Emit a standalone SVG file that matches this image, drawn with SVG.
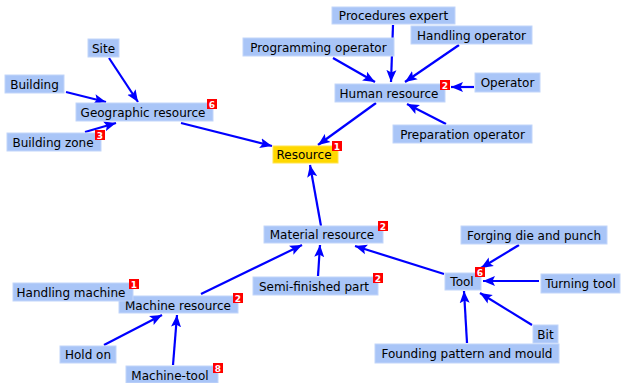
<svg xmlns="http://www.w3.org/2000/svg" width="621" height="383" viewBox="0 0 621 383">
<defs>
<marker id="ah" markerUnits="userSpaceOnUse" markerWidth="13" markerHeight="11" refX="12" refY="5.5" orient="auto">
<path d="M0,0.5 L12,5.5 L0,10.5 L2.5,5.5 z" fill="#0000ff"/>
</marker>
<style>
.n{fill:#a9c5f7;stroke:#c2d5fa;stroke-width:1}
.r{fill:#ffd800;stroke:#ffe44d;stroke-width:1}
.t{font-family:"DejaVu Sans",Verdana,sans-serif;font-size:12px;fill:#000;text-anchor:middle}
.b{fill:#ff0000}
.bt{font-family:"DejaVu Sans",sans-serif;font-size:9px;font-weight:bold;fill:#fff;text-anchor:middle}
.e{stroke:#0000ff;stroke-width:2.2;fill:none;marker-end:url(#ah)}
</style>
</defs>
<rect width="621" height="383" fill="#ffffff"/>
<g id="connectors">
<line class="e" x1="109" y1="58" x2="138" y2="102"/>
<line class="e" x1="66" y1="92" x2="106" y2="102"/>
<line class="e" x1="85" y1="132" x2="116" y2="123"/>
<line class="e" x1="181" y1="123" x2="272" y2="146"/>
<line class="e" x1="376" y1="103" x2="318" y2="145"/>
<line class="e" x1="393" y1="25" x2="391" y2="82"/>
<line class="e" x1="333" y1="58" x2="375" y2="82"/>
<line class="e" x1="459" y1="45" x2="405" y2="82"/>
<line class="e" x1="474" y1="87" x2="451" y2="87"/>
<line class="e" x1="446" y1="124" x2="407" y2="104"/>
<line class="e" x1="321" y1="226" x2="310" y2="165"/>
<line class="e" x1="201" y1="294" x2="302" y2="245"/>
<line class="e" x1="318" y1="276" x2="320" y2="245"/>
<line class="e" x1="444" y1="274" x2="355" y2="246"/>
<line class="e" x1="519" y1="245" x2="481" y2="268"/>
<line class="e" x1="539" y1="281" x2="483" y2="281"/>
<line class="e" x1="532" y1="325" x2="480" y2="293"/>
<line class="e" x1="467" y1="343" x2="464" y2="291"/>
<line class="e" x1="104" y1="345" x2="162" y2="315"/>
<line class="e" x1="173" y1="365" x2="177" y2="315"/>
</g>
<g id="n-site"><rect class="n" x="88" y="39" width="31" height="18"/><text class="t" x="103.5" y="52.5">Site</text></g>
<g id="n-building"><rect class="n" x="5" y="75" width="59" height="18"/><text class="t" x="34.5" y="88.5">Building</text></g>
<g id="n-geographic"><rect class="n" x="76" y="103" width="137" height="18"/><text class="t" x="143" y="116.5">Geographic resource</text><rect class="b" x="207" y="99" width="10" height="10"/><text class="bt" x="212" y="107.5">6</text></g>
<g id="n-buildingzone"><rect class="n" x="7" y="133" width="94" height="18"/><text class="t" x="53" y="146.5">Building zone</text><rect class="b" x="95" y="130" width="10" height="10"/><text class="bt" x="100" y="138.5">3</text></g>
<g id="n-resource"><rect class="r" x="273" y="146" width="65" height="17"/><text class="t" x="304" y="159">Resource</text><rect class="b" x="332" y="141" width="10" height="10"/><text class="bt" x="337" y="149.5">1</text></g>
<g id="n-procedures"><rect class="n" x="332" y="7" width="123" height="17"/><text class="t" x="393.5" y="20">Procedures expert</text></g>
<g id="n-handlingop"><rect class="n" x="411" y="26" width="121" height="18"/><text class="t" x="471.5" y="39.5">Handling operator</text></g>
<g id="n-programming"><rect class="n" x="243" y="38" width="151" height="18"/><text class="t" x="318.5" y="51.5">Programming operator</text></g>
<g id="n-human"><rect class="n" x="335" y="84" width="110" height="18"/><text class="t" x="389" y="97.5">Human resource</text><rect class="b" x="440" y="80" width="10" height="10"/><text class="bt" x="445" y="88.5">2</text></g>
<g id="n-operator"><rect class="n" x="475" y="73" width="65" height="19"/><text class="t" x="507.5" y="87">Operator</text></g>
<g id="n-preparation"><rect class="n" x="393" y="125" width="139" height="18"/><text class="t" x="462.5" y="138.5">Preparation operator</text></g>
<g id="n-material"><rect class="n" x="264" y="226" width="119" height="17"/><text class="t" x="322" y="239">Material resource</text><rect class="b" x="378" y="221" width="10" height="10"/><text class="bt" x="383" y="229.5">2</text></g>
<g id="n-semifinished"><rect class="n" x="253" y="277" width="125" height="18"/><text class="t" x="314" y="290.5">Semi-finished part</text><rect class="b" x="373" y="273" width="10" height="10"/><text class="bt" x="378" y="281.5">2</text></g>
<g id="n-forging"><rect class="n" x="461" y="226" width="146" height="18"/><text class="t" x="534" y="239.5">Forging die and punch</text></g>
<g id="n-tool"><rect class="n" x="445" y="273" width="36" height="17"/><text class="t" x="462" y="286">Tool</text><rect class="b" x="475" y="267" width="10" height="10"/><text class="bt" x="480" y="275.5">6</text></g>
<g id="n-turning"><rect class="n" x="541" y="274" width="79" height="19"/><text class="t" x="580.5" y="288">Turning tool</text></g>
<g id="n-bit"><rect class="n" x="533" y="325" width="25" height="18"/><text class="t" x="545.5" y="338.5">Bit</text></g>
<g id="n-founding"><rect class="n" x="375" y="344" width="184" height="19"/><text class="t" x="467" y="358">Founding pattern and mould</text></g>
<g id="n-machine"><rect class="n" x="119" y="296" width="119" height="17"/><text class="t" x="178" y="309.5">Machine resource</text><rect class="b" x="233" y="293" width="10" height="10"/><text class="bt" x="238" y="301.5">2</text></g>
<g id="n-handlingmachine"><rect class="n" x="13" y="283" width="120" height="18"/><text class="t" x="71" y="296.5">Handling machine</text><rect class="b" x="129" y="279" width="10" height="10"/><text class="bt" x="134" y="287.5">1</text></g>
<g id="n-holdon"><rect class="n" x="60" y="346" width="56" height="17"/><text class="t" x="88" y="359">Hold on</text></g>
<g id="n-machinetool"><rect class="n" x="126" y="366" width="92" height="17"/><text class="t" x="170" y="379.5">Machine-tool</text><rect class="b" x="213" y="363" width="10" height="10"/><text class="bt" x="218" y="371.5">8</text></g>
</svg>
